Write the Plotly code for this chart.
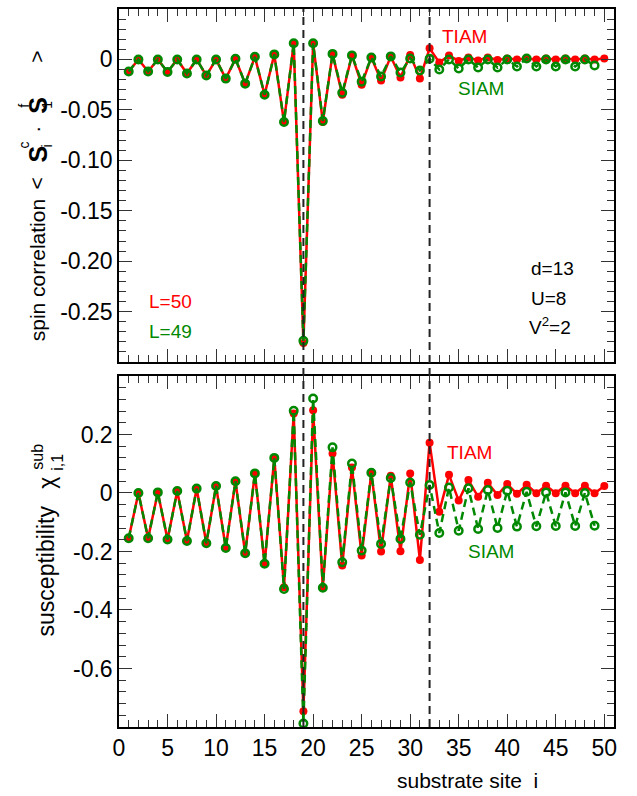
import plotly.graph_objects as go

# ---- data ----
site_tiam = list(range(1, 51))
site_siam = list(range(1, 50))

corr_tiam = [-0.012, 0.000, -0.012, 0.000, -0.0125, 0.000, -0.014, 0.000, -0.016, 0.000,
             -0.019, 0.0006, -0.024, 0.0026, -0.035, 0.005, -0.062, 0.016, -0.281, 0.016,
             -0.062, 0.0055, -0.035, 0.004, -0.025, 0.002, -0.021, 0.003, -0.018, 0.0045,
             -0.019, 0.011, -0.003, 0.004, -0.0015, 0.002, -0.001, 0.002, -0.0005, 0.001,
             0.000, 0.001, 0.000, 0.001, 0.000, 0.001, 0.000, 0.001, 0.000, 0.001]
corr_siam = [-0.012, 0.000, -0.012, 0.000, -0.0125, 0.000, -0.014, 0.000, -0.016, 0.000,
             -0.019, 0.0006, -0.024, 0.0026, -0.035, 0.005, -0.062, 0.016, -0.279, 0.016,
             -0.061, 0.0055, -0.033, 0.004, -0.022, 0.002, -0.017, 0.003, -0.013, 0.001,
             -0.011, 0.0006, -0.010, 0.000, -0.009, 0.000, -0.008, 0.000, -0.008, 0.000,
             -0.007, 0.001, -0.007, 0.000, -0.007, 0.000, -0.007, 0.000, -0.006]

chi_tiam = [-0.155, 0.000, -0.155, 0.002, -0.159, 0.007, -0.164, 0.015, -0.172, 0.024,
            -0.188, 0.040, -0.206, 0.067, -0.242, 0.120, -0.322, 0.272, -0.746, 0.283,
            -0.324, 0.135, -0.248, 0.087, -0.214, 0.069, -0.200, 0.059, -0.199, 0.067,
            -0.229, 0.172, -0.064, 0.062, -0.026, 0.044, -0.013, 0.035, -0.007, 0.031,
            -0.003, 0.028, -0.001, 0.025, -0.001, 0.025, -0.001, 0.025, -0.001, 0.024]
chi_siam = [-0.155, 0.000, -0.155, 0.002, -0.159, 0.007, -0.164, 0.015, -0.172, 0.024,
            -0.188, 0.040, -0.206, 0.067, -0.242, 0.120, -0.328, 0.281, -0.788, 0.323,
            -0.324, 0.156, -0.237, 0.101, -0.197, 0.069, -0.174, 0.051, -0.157, 0.036,
            -0.143, 0.027, -0.137, 0.019, -0.129, 0.016, -0.123, 0.010, -0.120, 0.008,
            -0.115, 0.004, -0.114, 0.002, -0.113, 0.002, -0.113, 0.000, -0.112]

x_ticks = [0, 5, 10, 15, 20, 25, 30, 35, 40, 45, 50]
top_ticks = [0, -0.05, -0.10, -0.15, -0.20, -0.25]
top_ticklabels = ["0", "-0.05", "-0.10", "-0.15", "-0.20", "-0.25"]
bot_ticks = [0.2, 0, -0.2, -0.4, -0.6]
bot_ticklabels = ["0.2", "0", "-0.2", "-0.4", "-0.6"]
impurity_sites = [19, 32]

RED = "#ff0000"
GREEN = "#008800"
FONT = "Liberation Sans, Arial, sans-serif"

W, H = 637, 796
ML, MR, MT, MB = 119, 23, 7, 69
PW, PH = W - ML - MR, H - MT - MB

fig = go.Figure()

def add_pair(y_t, y_s, xa, ya):
    fig.add_trace(go.Scatter(x=site_tiam, y=y_t, mode="lines+markers", xaxis=xa, yaxis=ya,
                             line=dict(color=RED, width=2.5),
                             marker=dict(symbol="circle", size=8, color=RED),
                             showlegend=False))
    fig.add_trace(go.Scatter(x=site_siam, y=y_s, mode="lines+markers", xaxis=xa, yaxis=ya,
                             line=dict(color=GREEN, width=2.5, dash="8px,5px"),
                             marker=dict(symbol="circle-open", size=7.5, color=GREEN,
                                         line=dict(width=2.5, color=GREEN)),
                             showlegend=False))

add_pair(corr_tiam, corr_siam, "x", "y")
add_pair(chi_tiam, chi_siam, "x2", "y2")

axis_common = dict(showline=True, linecolor="black", linewidth=1.5, mirror="allticks",
                   ticks="inside", ticklen=13, tickwidth=1.3, tickcolor="#333",
                   showgrid=False, zeroline=False,
                   tickfont=dict(family=FONT, size=23, color="black"))
minor_common = dict(ticklen=7, ticks="inside", tickcolor="#333", tickwidth=1.3, tick0=0)

fig.update_layout(
    width=W, height=H,
    margin=dict(l=ML, r=MR, t=MT, b=MB),
    paper_bgcolor="white", plot_bgcolor="white",
    xaxis=dict(range=[0, 51], domain=[0, 1], anchor="y", tickvals=x_ticks,
               showticklabels=False, minor=dict(dtick=1, **minor_common), **axis_common),
    yaxis=dict(range=[-0.3, 0.05], domain=[0.5083, 1], anchor="x", tickvals=top_ticks,
               ticktext=top_ticklabels, minor=dict(dtick=0.01, **minor_common), **axis_common),
    xaxis2=dict(range=[0, 51], domain=[0, 1], anchor="y2", tickvals=x_ticks,
                minor=dict(dtick=1, **minor_common), **axis_common),
    yaxis2=dict(range=[-0.8, 0.4], domain=[0, 0.4889], anchor="x2", tickvals=bot_ticks,
                ticktext=bot_ticklabels, minor=dict(dtick=0.04, **minor_common), **axis_common),
)

for xs in impurity_sites:
    fig.add_shape(type="line", xref="x", yref="paper", x0=xs, x1=xs, y0=0, y1=1,
                  line=dict(color="#222", width=2, dash="8px,5px"), layer="above")

def ann(text, px, py, color="black", size=19, angle=0, xanchor="center", bold=False):
    fig.add_annotation(text=text, x=(px - ML) / PW, y=(H - MB - py) / PH,
                       xref="paper", yref="paper", showarrow=False,
                       textangle=angle, xanchor=xanchor, yanchor="middle",
                       font=dict(family=FONT, size=size, color=color))

# top panel labels
ann("TIAM", 464, 35, RED)
ann("SIAM", 481, 87, GREEN)
ann("d=13", 529, 267, "black", 19, xanchor="left")
ann("U=8", 529, 297, "black", 19, xanchor="left")
ann("V<sup>2</sup>=2", 527, 325, "black", 19, xanchor="left")
ann("L=50", 147, 300, RED, 19, xanchor="left")
ann("L=49", 147, 330, GREEN, 19, xanchor="left")
# bottom panel labels
ann("TIAM", 469, 452, RED)
ann("SIAM", 491, 551, GREEN)

# top y title, assembled with stacked super/subscripts
ann("spin correlation", 37, 269, "black", 21, -90)
ann("<", 37, 182, "black", 21, -90)
ann("<b>S</b>", 38, 153, "black", 25, -90)
ann("c", 24, 144, "black", 14, -90)
ann("i", 47, 145, "black", 14, -90)
ann("·", 37, 128, "black", 21, -90)
ann("<b>S</b>", 38, 104, "black", 25, -90)
ann("f", 24, 104, "black", 14, -90)
ann("1", 47, 103, "black", 14, -90)
ann(">", 37, 55, "black", 21, -90)

# bottom y title
ann("susceptibility", 46, 571, "black", 23, -90)
ann("χ", 47, 482, "black", 23, -90)
ann("sub", 38, 456, "black", 16, -90)
ann("i,1", 58, 462, "black", 16, -90)

# x title
ann("substrate site  i", 467, 781, "black", 21)

fig.write_html("out.html")
